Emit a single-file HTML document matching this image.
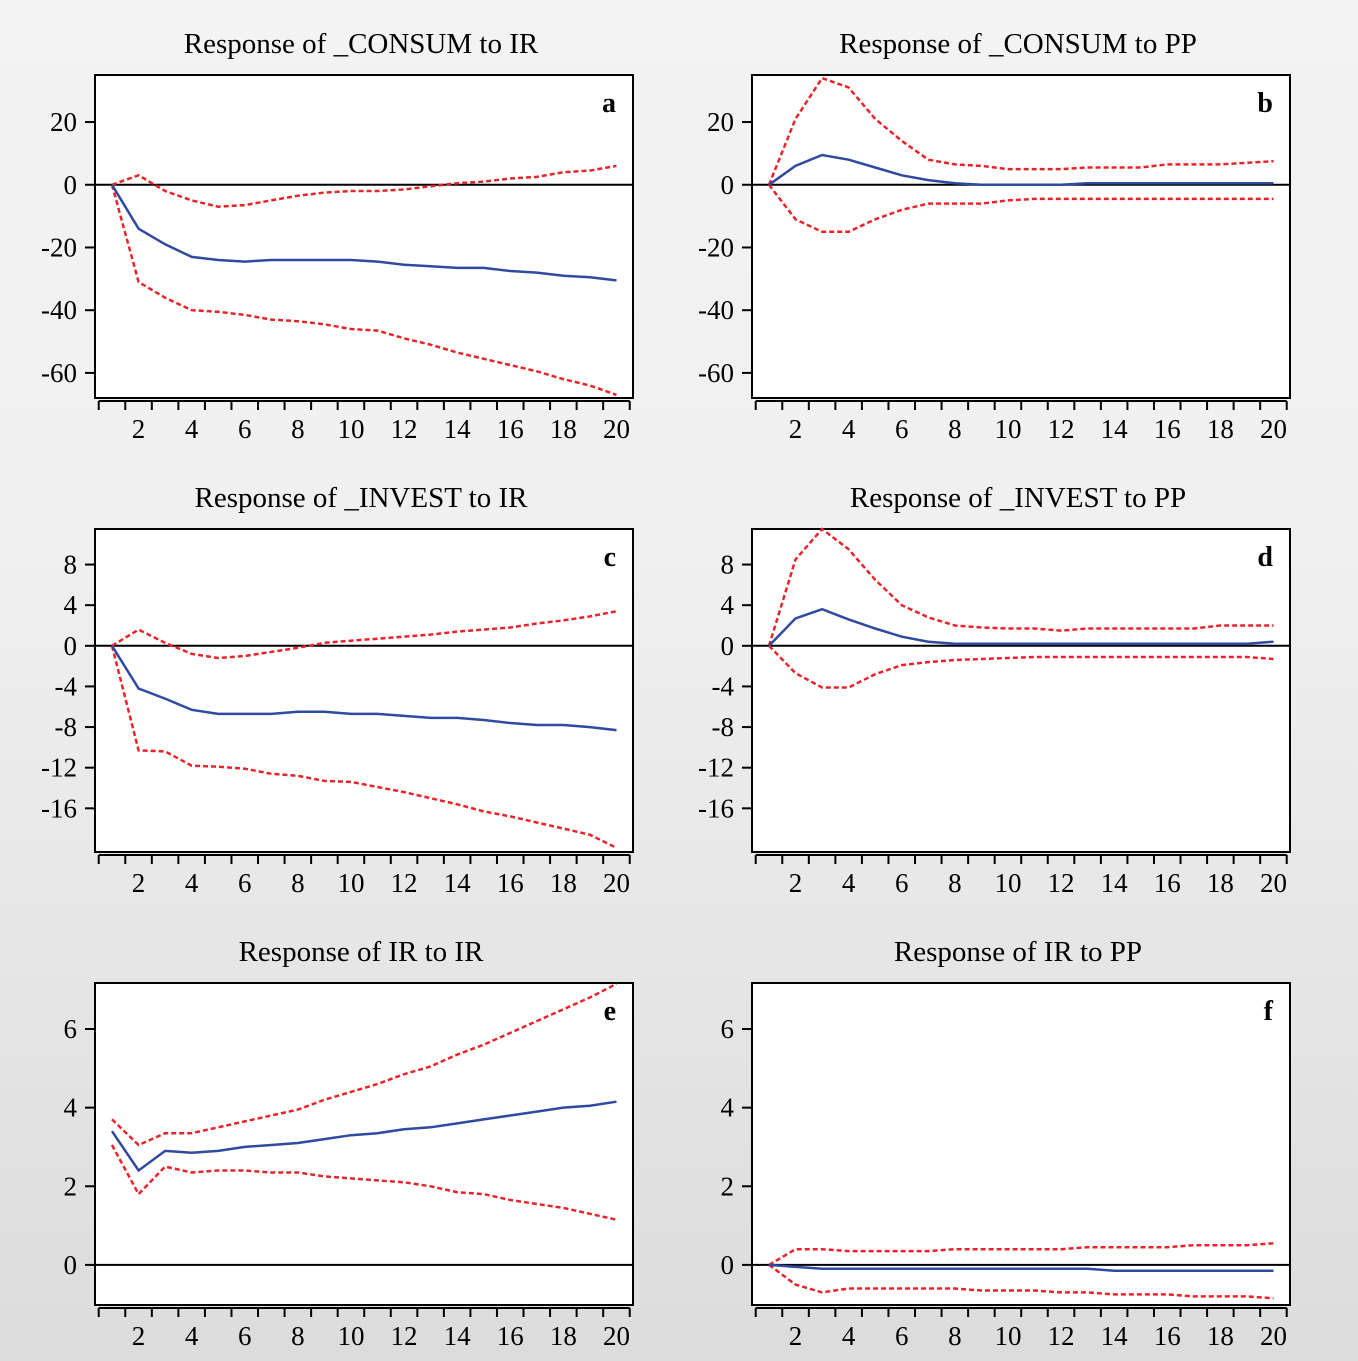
<!DOCTYPE html>
<html><head><meta charset="utf-8">
<style>
html,body{margin:0;padding:0;}
body{width:1358px;height:1361px;background:linear-gradient(#f3f3f3,#f0f0f0 40%,#dcdcdc);font-family:"Liberation Serif",serif;overflow:hidden;}
svg{position:absolute;left:0;top:0;}
</style></head><body>
<svg id="chart" width="1358" height="1361" xmlns="http://www.w3.org/2000/svg"></svg>
<script>
const periods=[1,2,3,4,5,6,7,8,9,10,11,12,13,14,15,16,17,18,19,20];
const xTickLabels=[2,4,6,8,10,12,14,16,18,20];
const aMid=[0,-14,-19,-23,-24,-24.5,-24,-24,-24,-24,-24.5,-25.5,-26,-26.5,-26.5,-27.5,-28,-29,-29.5,-30.5];
const aUp=[0,3,-2,-5,-7,-6.5,-5,-3.5,-2.5,-2,-2,-1.5,-0.5,0.5,1,2,2.5,4,4.5,6];
const aLo=[0,-31,-36,-40,-40.5,-41.5,-43,-43.5,-44.5,-46,-46.5,-49,-51,-53.5,-55.5,-57.5,-59.5,-62,-64,-67];
const bMid=[0,6,9.5,8,5.5,3,1.5,0.5,0,0,0,0,0.5,0.5,0.5,0.5,0.5,0.5,0.5,0.5];
const bUp=[0,21,34,31,21,14,8,6.5,6,5,5,5,5.5,5.5,5.5,6.5,6.5,6.5,7,7.5];
const bLo=[0,-11,-15,-15,-11,-8,-6,-6,-6,-5,-4.5,-4.5,-4.5,-4.5,-4.5,-4.5,-4.5,-4.5,-4.5,-4.5];
const cMid=[0,-4.2,-5.2,-6.3,-6.7,-6.7,-6.7,-6.5,-6.5,-6.7,-6.7,-6.9,-7.1,-7.1,-7.3,-7.6,-7.8,-7.8,-8.0,-8.3];
const cUp=[0,1.6,0.3,-0.8,-1.2,-1.0,-0.6,-0.2,0.3,0.5,0.7,0.9,1.1,1.4,1.6,1.8,2.2,2.5,2.9,3.4];
const cLo=[0,-10.3,-10.4,-11.8,-11.9,-12.1,-12.6,-12.8,-13.3,-13.4,-13.9,-14.4,-15.0,-15.6,-16.3,-16.8,-17.4,-18.0,-18.6,-19.9];
const dMid=[0,2.7,3.6,2.6,1.7,0.9,0.4,0.2,0.2,0.2,0.2,0.2,0.2,0.2,0.2,0.2,0.2,0.2,0.2,0.4];
const dUp=[0,8.5,11.5,9.5,6.5,4.0,2.8,2.0,1.8,1.7,1.7,1.5,1.7,1.7,1.7,1.7,1.7,2.0,2.0,2.0];
const dLo=[0,-2.7,-4.1,-4.1,-2.8,-1.9,-1.6,-1.4,-1.3,-1.2,-1.1,-1.1,-1.1,-1.1,-1.1,-1.1,-1.1,-1.1,-1.1,-1.3];
const eMid=[3.4,2.4,2.9,2.85,2.9,3.0,3.05,3.1,3.2,3.3,3.35,3.45,3.5,3.6,3.7,3.8,3.9,4.0,4.05,4.15];
const eUp=[3.7,3.05,3.35,3.35,3.5,3.65,3.8,3.95,4.2,4.4,4.6,4.85,5.05,5.35,5.6,5.9,6.2,6.5,6.8,7.15];
const eLo=[3.05,1.8,2.5,2.35,2.4,2.4,2.35,2.35,2.25,2.2,2.15,2.1,2.0,1.85,1.8,1.65,1.55,1.45,1.3,1.15];
const fMid=[0,-0.05,-0.1,-0.1,-0.1,-0.1,-0.1,-0.1,-0.1,-0.1,-0.1,-0.1,-0.1,-0.15,-0.15,-0.15,-0.15,-0.15,-0.15,-0.15];
const fUp=[0,0.4,0.4,0.35,0.35,0.35,0.35,0.4,0.4,0.4,0.4,0.4,0.45,0.45,0.45,0.45,0.5,0.5,0.5,0.55];
const fLo=[0,-0.5,-0.7,-0.6,-0.6,-0.6,-0.6,-0.6,-0.65,-0.65,-0.65,-0.7,-0.7,-0.75,-0.75,-0.75,-0.8,-0.8,-0.8,-0.85];
const yTicksTop=[20,0,-20,-40,-60];
const yTicksMid=[8,4,0,-4,-8,-12,-16];
const yTicksBot=[6,4,2,0];

const svg=document.getElementById('chart');
const NS='http://www.w3.org/2000/svg';
function mk(tag,attrs,parent){const e=document.createElementNS(NS,tag);for(const k in attrs)e.setAttribute(k,attrs[k]);(parent||svg).appendChild(e);return e;}

const panels=[
 {id:'a',title:'Response of _CONSUM to IR',L:95,T:75,B:398,ymax:35,ymin:-68,ticks:yTicksTop,mid:aMid,up:aUp,lo:aLo},
 {id:'b',title:'Response of _CONSUM to PP',L:752,T:75,B:398,ymax:35,ymin:-68,ticks:yTicksTop,mid:bMid,up:bUp,lo:bLo},
 {id:'c',title:'Response of _INVEST to IR',L:95,T:529,B:852,ymax:11.5,ymin:-20.3,ticks:yTicksMid,mid:cMid,up:cUp,lo:cLo},
 {id:'d',title:'Response of _INVEST to PP',L:752,T:529,B:852,ymax:11.5,ymin:-20.3,ticks:yTicksMid,mid:dMid,up:dUp,lo:dLo},
 {id:'e',title:'Response of IR to IR',L:95,T:983,B:1305,ymax:7.17,ymin:-1.02,ticks:yTicksBot,mid:eMid,up:eUp,lo:eLo},
 {id:'f',title:'Response of IR to PP',L:752,T:983,B:1305,ymax:7.17,ymin:-1.02,ticks:yTicksBot,mid:fMid,up:fUp,lo:fLo}
];
const W=538, step=26.55;
panels.forEach(p=>{
  const g=mk('g',{});
  
  
  const R=p.L+W;
  const x=t=>p.L+17+(t-1)*step;
  const y=v=>p.T+(p.ymax-v)/(p.ymax-p.ymin)*(p.B-p.T);
  const title=mk('text',{x:p.L+W/2-3,y:p.T-22,'text-anchor':'middle','font-size':29,fill:'#000'},g);
  title.textContent=p.title;
  
  
  const box=mk('rect',{x:p.L,y:p.T,width:W,height:p.B-p.T,fill:'#fff',stroke:'#000','stroke-width':2},g);
  
  
  const z=mk('line',{x1:p.L,x2:R,y1:y(0),y2:y(0),stroke:'#000','stroke-width':2},g);
  
  
  p.ticks.forEach(v=>{
    mk('line',{x1:p.L-10,x2:p.L,y1:y(v),y2:y(v),stroke:'#000','stroke-width':2},g);
    const t=mk('text',{x:p.L-18,y:y(v)+9,'text-anchor':'end','font-size':27,fill:'#000'},g);
    t.textContent=v;
    
    
  });
  const ay=p.B+3;
  mk('line',{x1:x(0.5),x2:x(20.5),y1:ay,y2:ay,stroke:'#000','stroke-width':2},g);
  for(let i=0;i<=20;i++){mk('line',{x1:x(i+0.5),x2:x(i+0.5),y1:ay,y2:ay+9,stroke:'#000','stroke-width':2},g);}
  xTickLabels.forEach(v=>{
    const t=mk('text',{x:x(v),y:p.B+40,'text-anchor':'middle','font-size':27,fill:'#000'},g);
    t.textContent=v;
    
    
  });
  const pts=arr=>arr.map((v,i)=>x(periods[i]).toFixed(1)+','+y(v).toFixed(1)).join(' ');
  const up=mk('polyline',{points:pts(p.up),fill:'none',stroke:'#e8242a','stroke-width':2.5,'stroke-dasharray':'5,3'},g);
  
  
  const lo=mk('polyline',{points:pts(p.lo),fill:'none',stroke:'#e8242a','stroke-width':2.5,'stroke-dasharray':'5,3'},g);
  
  
  const m=mk('polyline',{points:pts(p.mid),fill:'none',stroke:'#2f4aa0','stroke-width':2.5},g);
  
  
  const lt=mk('text',{x:R-17,y:p.T+37,'text-anchor':'end','font-size':28,'font-weight':'bold',fill:'#000'},g);
  lt.textContent=p.id;
  
  
});
</script>
</body></html>
